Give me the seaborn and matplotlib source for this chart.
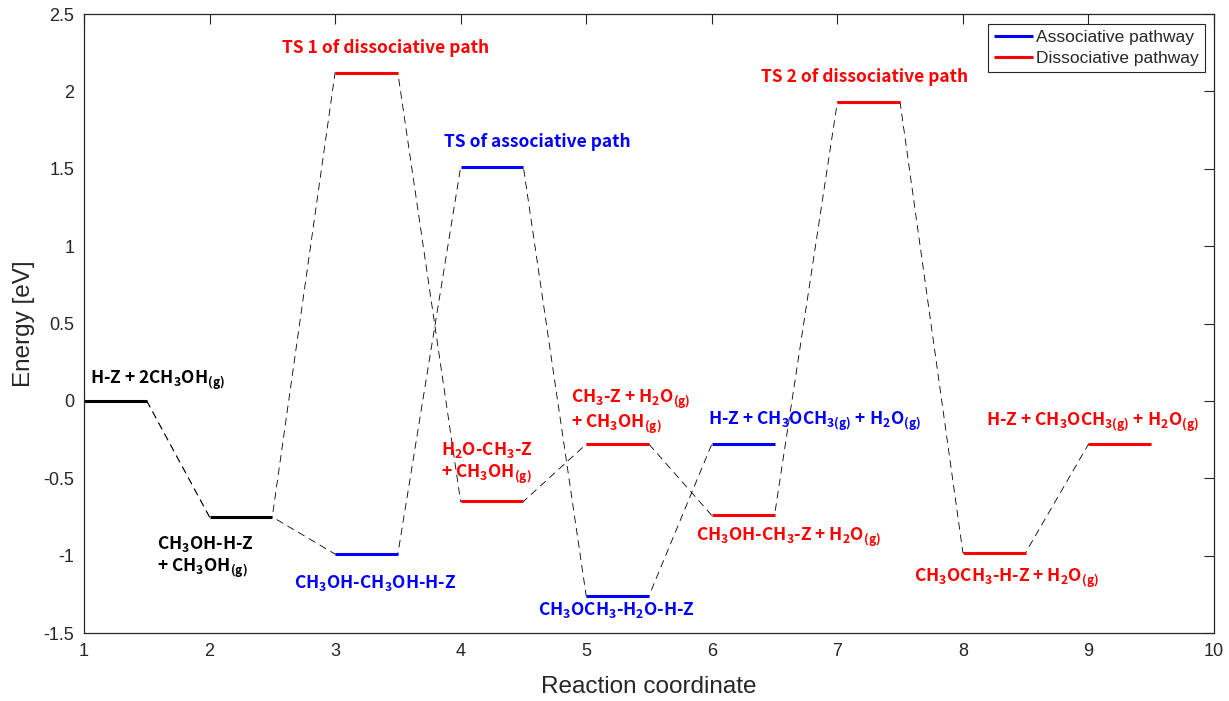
import matplotlib
matplotlib.use("Agg")
import matplotlib.pyplot as plt
import pandas as pd
import seaborn as sns

sns.set_theme(style="white")
plt.rcParams['font.family'] = ['Liberation Sans', 'DejaVu Sans']
plt.rcParams['mathtext.default'] = 'regular'

# energy levels (left end of each level, level is 0.5 wide)
start_x = [1, 2]
start_e = [0.0, -0.75]
assoc_x = [3, 4, 5, 6]
assoc_e = [-0.99, 1.51, -1.26, -0.28]
dissoc_x = [3, 4, 5, 6, 7, 8, 9]
dissoc_e = [2.12, -0.65, -0.28, -0.74, 1.93, -0.98, -0.28]
level_w = 0.5

# labels: text, x, y, colour, alignment
labels = [
    ("H-Z + 2CH$_3$OH$_{(g)}$", 1.05, 0.13, "black", "left"),
    ("CH$_3$OH-H-Z\n+ CH$_3$OH$_{(g)}$", 1.58, -1.01, "black", "left"),
    ("CH$_3$OH-CH$_3$OH-H-Z", 3.32, -1.18, "blue", "center"),
    ("TS 1 of dissociative path", 3.40, 2.28, "red", "center"),
    ("TS of associative path", 4.61, 1.67, "blue", "center"),
    ("H$_2$O-CH$_3$-Z\n+ CH$_3$OH$_{(g)}$", 3.84, -0.40, "red", "left"),
    ("CH$_3$-Z + H$_2$O$_{(g)}$\n+ CH$_3$OH$_{(g)}$", 4.88, -0.07, "red", "left"),
    ("CH$_3$OCH$_3$-H$_2$O-H-Z", 5.24, -1.35, "blue", "center"),
    ("H-Z + CH$_3$OCH$_{3(g)}$ + H$_2$O$_{(g)}$", 6.82, -0.13, "blue", "center"),
    ("CH$_3$OH-CH$_3$-Z + H$_2$O$_{(g)}$", 6.61, -0.88, "red", "center"),
    ("TS 2 of dissociative path", 7.22, 2.09, "red", "center"),
    ("CH$_3$OCH$_3$-H-Z + H$_2$O$_{(g)}$", 8.35, -1.145, "red", "center"),
    ("H-Z + CH$_3$OCH$_{3(g)}$ + H$_2$O$_{(g)}$", 9.03, -0.14, "red", "center"),
]


def path_frame(xs, es):
    px, pe = [], []
    for x, e in zip(xs, es):
        px += [x, x + level_w]
        pe += [e, e]
    return pd.DataFrame({"x": px, "e": pe})


fig = plt.figure(figsize=(12.29, 7.01), dpi=100)
ax = fig.add_axes([0.0683, 0.097, 0.9195, 0.883])

# dashed connectors through each pathway
for xs, es in [(start_x + assoc_x, start_e + assoc_e), (start_x + dissoc_x, start_e + dissoc_e)]:
    df = path_frame(xs, es)
    sns.lineplot(data=df, x="x", y="e", sort=False, estimator=None, ax=ax,
                 color="black", lw=0.6, linestyle=(0, (9, 6)))

# solid levels
ax.hlines(start_e, start_x, [x + level_w for x in start_x], color="black", lw=2.2)
ax.hlines(assoc_e, assoc_x, [x + level_w for x in assoc_x], color="blue", lw=2.2,
          label="Associative pathway")
ax.hlines(dissoc_e, dissoc_x, [x + level_w for x in dissoc_x], color="red", lw=2.2,
          label="Dissociative pathway")

for txt, x, y, c, ha in labels:
    ax.text(x, y, txt, color=c, ha=ha, va="center", fontsize=12.5, fontweight="bold",
            family="Noto Sans CJK KR", linespacing=1.15)

ax.set_xlim(1, 10)
ax.set_ylim(-1.5, 2.5)
ax.set_xticks(range(1, 11))
ax.set_yticks([-1.5, -1, -0.5, 0, 0.5, 1, 1.5, 2, 2.5])
ax.set_yticklabels(["-1.5", "-1", "-0.5", "0", "0.5", "1", "1.5", "2", "2.5"])
ax.tick_params(direction="in", length=7, width=0.8, top=True, right=True,
               labelsize=13, colors="#262626", pad=7)
for s in ax.spines.values():
    s.set_color("#262626")
    s.set_linewidth(0.9)
ax.set_xlabel("Reaction coordinate", fontsize=17.5, color="#262626", labelpad=12)
ax.set_ylabel("Energy [eV]", fontsize=17.5, color="#262626", labelpad=6)

leg = ax.legend(loc="upper right", fontsize=12.5, frameon=True, fancybox=False,
                framealpha=1, edgecolor="#262626", handlelength=2.2,
                borderpad=0.35, labelspacing=0.35, handletextpad=0.2,
                borderaxespad=0, bbox_to_anchor=(0.992, 0.984))
leg.get_frame().set_linewidth(0.8)

fig.savefig("out.png", dpi=100)
